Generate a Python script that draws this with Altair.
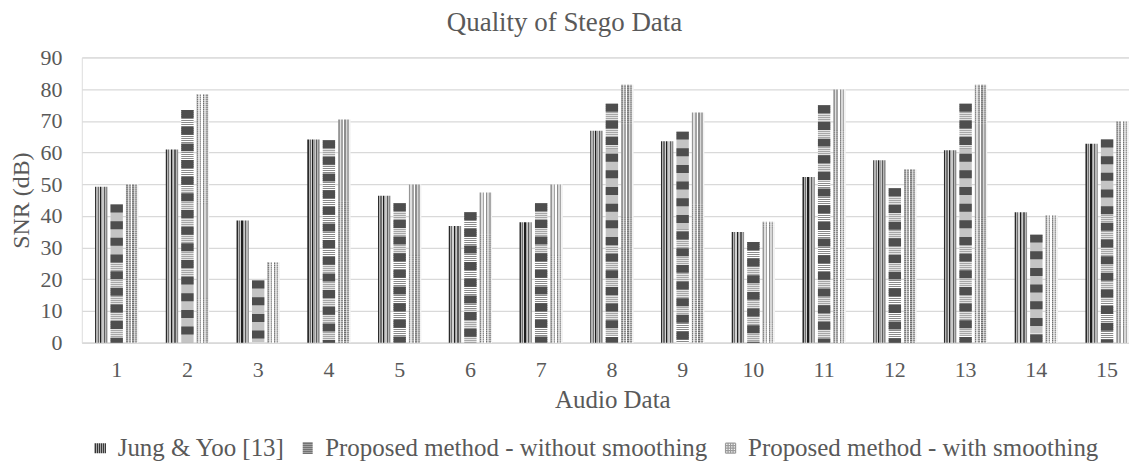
import altair as alt
import pandas as pd

# ---------------- data ----------------
audio = [str(i) for i in range(1, 16)]
series = [
    "Jung & Yoo [13]",
    "Proposed method - without smoothing",
    "Proposed method - with smoothing",
]
jung = [49.2, 61.0, 38.6, 64.1, 46.4, 36.8, 38.0, 66.9, 63.6, 34.9, 52.3, 57.6, 60.7, 41.2, 62.8]
without_smooth = [43.6, 73.4, 19.6, 63.9, 44.0, 41.2, 44.0, 75.4, 66.6, 31.8, 74.9, 48.7, 75.4, 34.1, 64.1]
with_smooth = [50.0, 78.5, 25.5, 70.4, 49.9, 47.4, 49.9, 81.4, 72.6, 38.2, 79.9, 54.7, 81.4, 40.2, 69.9]
y_ticks = [0, 10, 20, 30, 40, 50, 60, 70, 80, 90]

rows = []
for name, vals in zip(series, [jung, without_smooth, with_smooth]):
    for a, v in zip(audio, vals):
        rows.append({"audio": a, "series": name, "snr": v})
df = pd.DataFrame(rows)

FONT = "Liberation Serif"
TXT = "#595959"
BAR_W = 12.4


def stripes(colors, horizontal=True):
    n = len(colors)
    stops = []
    for i, c in enumerate(colors):
        stops.append(alt.GradientStop(offset=i / n, color=c))
        stops.append(alt.GradientStop(offset=(i + 1) / n, color=c))
    if horizontal:
        return alt.LinearGradient(gradient="linear", stops=stops, x1=0, x2=1, y1=0, y2=0)
    return alt.LinearGradient(gradient="linear", stops=stops, x1=0, x2=0, y1=0, y2=1)


x_enc = alt.X(
    "audio:N",
    sort=audio,
    scale=alt.Scale(paddingInner=0.388, paddingOuter=0.0955, align=0.98),
    axis=alt.Axis(
        title="Audio Data",
        labelAngle=0,
        labelFont=FONT,
        labelFontSize=22,
        labelColor=TXT,
        labelPadding=17,
        ticks=False,
        tickSize=0,
        domainColor="#d9d9d9",
        domainWidth=1.2,
        grid=False,
        titleFont=FONT,
        titleFontSize=25,
        titleFontWeight="normal",
        titleColor=TXT,
        titleBaseline="alphabetic",
        titleY=65,
        titleX=532,
    ),
)
y_enc = alt.Y(
    "snr:Q",
    scale=alt.Scale(domain=[0, 90], nice=False),
    axis=alt.Axis(
        title="SNR (dB)",
        values=y_ticks,
        labelFont=FONT,
        labelFontSize=22,
        labelColor=TXT,
        labelPadding=20,
        ticks=False,
        tickSize=0,
        domain=False,
        grid=True,
        gridColor="#d9d9d9",
        gridWidth=1.2,
        titleFont=FONT,
        titleFontSize=24,
        titleFontWeight="normal",
        titleColor=TXT,
        titleBaseline="middle",
        titleX=-60,
        titleY=143,
    ),
)
xo_enc = alt.XOffset(
    "series:N",
    sort=series,
    scale=alt.Scale(domain=series, paddingInner=0.2, paddingOuter=0),
)

base = alt.Chart(df).encode(x=x_enc, xOffset=xo_enc)


def sel(i):
    return alt.datum.series == series[i]


# Series 1: vertical stripes
jung_bar = base.transform_filter(sel(0)).mark_bar(
    color=stripes(["#2a2a2a", "#b4b4b4", "#707070", "#d2d2d2", "#1e1e1e",
                   "#a0a0a0", "#c8c8c8", "#5c5c5c", "#b8b8b8", "#8c8c8c"])
).encode(y=y_enc)

# Series 2: horizontal stripes
wo_bar = base.transform_filter(sel(1)).mark_bar(color="#ffffff").encode(y=y_enc)
wo_lines = base.transform_filter(sel(1)).mark_rule(
    color="#8a8a8a", strokeWidth=BAR_W, strokeDash=[1, 1]
).encode(y=y_enc, y2=alt.datum(0))
wo_blocks = base.transform_filter(sel(1)).mark_rule(
    color="#4e4e4e", strokeWidth=BAR_W, strokeDash=[8, 8.7]
).encode(y=y_enc, y2=alt.datum(0))

# Series 3: light checker
w_bar = base.transform_filter(sel(2)).mark_bar(
    color=stripes(["#777777", "#d8d8d8", "#8a8a8a", "#ffffff", "#6e6e6e",
                   "#cccccc", "#909090", "#eeeeee"])
).encode(y=y_enc)
w_dots = base.transform_filter(sel(2)).mark_rule(
    color="#ffffff", opacity=0.45, strokeWidth=BAR_W, strokeDash=[1, 1]
).encode(y=y_enc, y2=alt.datum(0))

# Legend only layer
legend_paths = [
    "M-1,-1V1M-0.6,-1V1M-0.2,-1V1M0.2,-1V1M0.6,-1V1M1,-1V1",
    "M-1,-1H1M-1,-0.6H1M-1,-0.2H1M-1,0.2H1M-1,0.6H1M-1,1H1",
    "M-1,-1H1M-1,-0.5H1M-1,0H1M-1,0.5H1M-1,1H1M-1,-1V1M-0.5,-1V1M0,-1V1M0.5,-1V1M1,-1V1",
]
legend_cfg = alt.Legend(
    title=None,
    orient="none",
    direction="horizontal",
    legendX=6,
    legendY=379,
    labelFont=FONT,
    labelFontSize=25,
    labelColor=TXT,
    labelLimit=0,
    symbolSize=100,
    symbolStrokeWidth=1.3,
    symbolOpacity=1,
    labelOffset=5,
    columnPadding=10,
    padding=0,
)
legend_layer = base.mark_point(filled=False, opacity=0).encode(
    y=y_enc,
    color=alt.Color("series:N", sort=series,
                    scale=alt.Scale(domain=series, range=["#222222", "#444444", "#9a9a9a"]),
                    legend=legend_cfg),
    shape=alt.Shape("series:N", sort=series,
                    scale=alt.Scale(domain=series, range=legend_paths),
                    legend=legend_cfg),
)

chart = alt.layer(
    jung_bar, wo_bar, wo_lines, wo_blocks, w_bar, w_dots, legend_layer
).properties(
    width=1050,
    height=286,
    title=alt.TitleParams(
        "Quality of Stego Data",
        font=FONT,
        fontSize=27,
        fontWeight="normal",
        color=TXT,
        anchor="middle",
        dx=-41,
        offset=10,
    ),
    autosize=alt.AutoSizeParams(type="none"),
    padding={"left": 74, "top": 49, "right": 0, "bottom": 118},
).configure_view(stroke=None).configure(background="white")

chart.save("out.html", embed_options={"renderer": "svg", "actions": False})
